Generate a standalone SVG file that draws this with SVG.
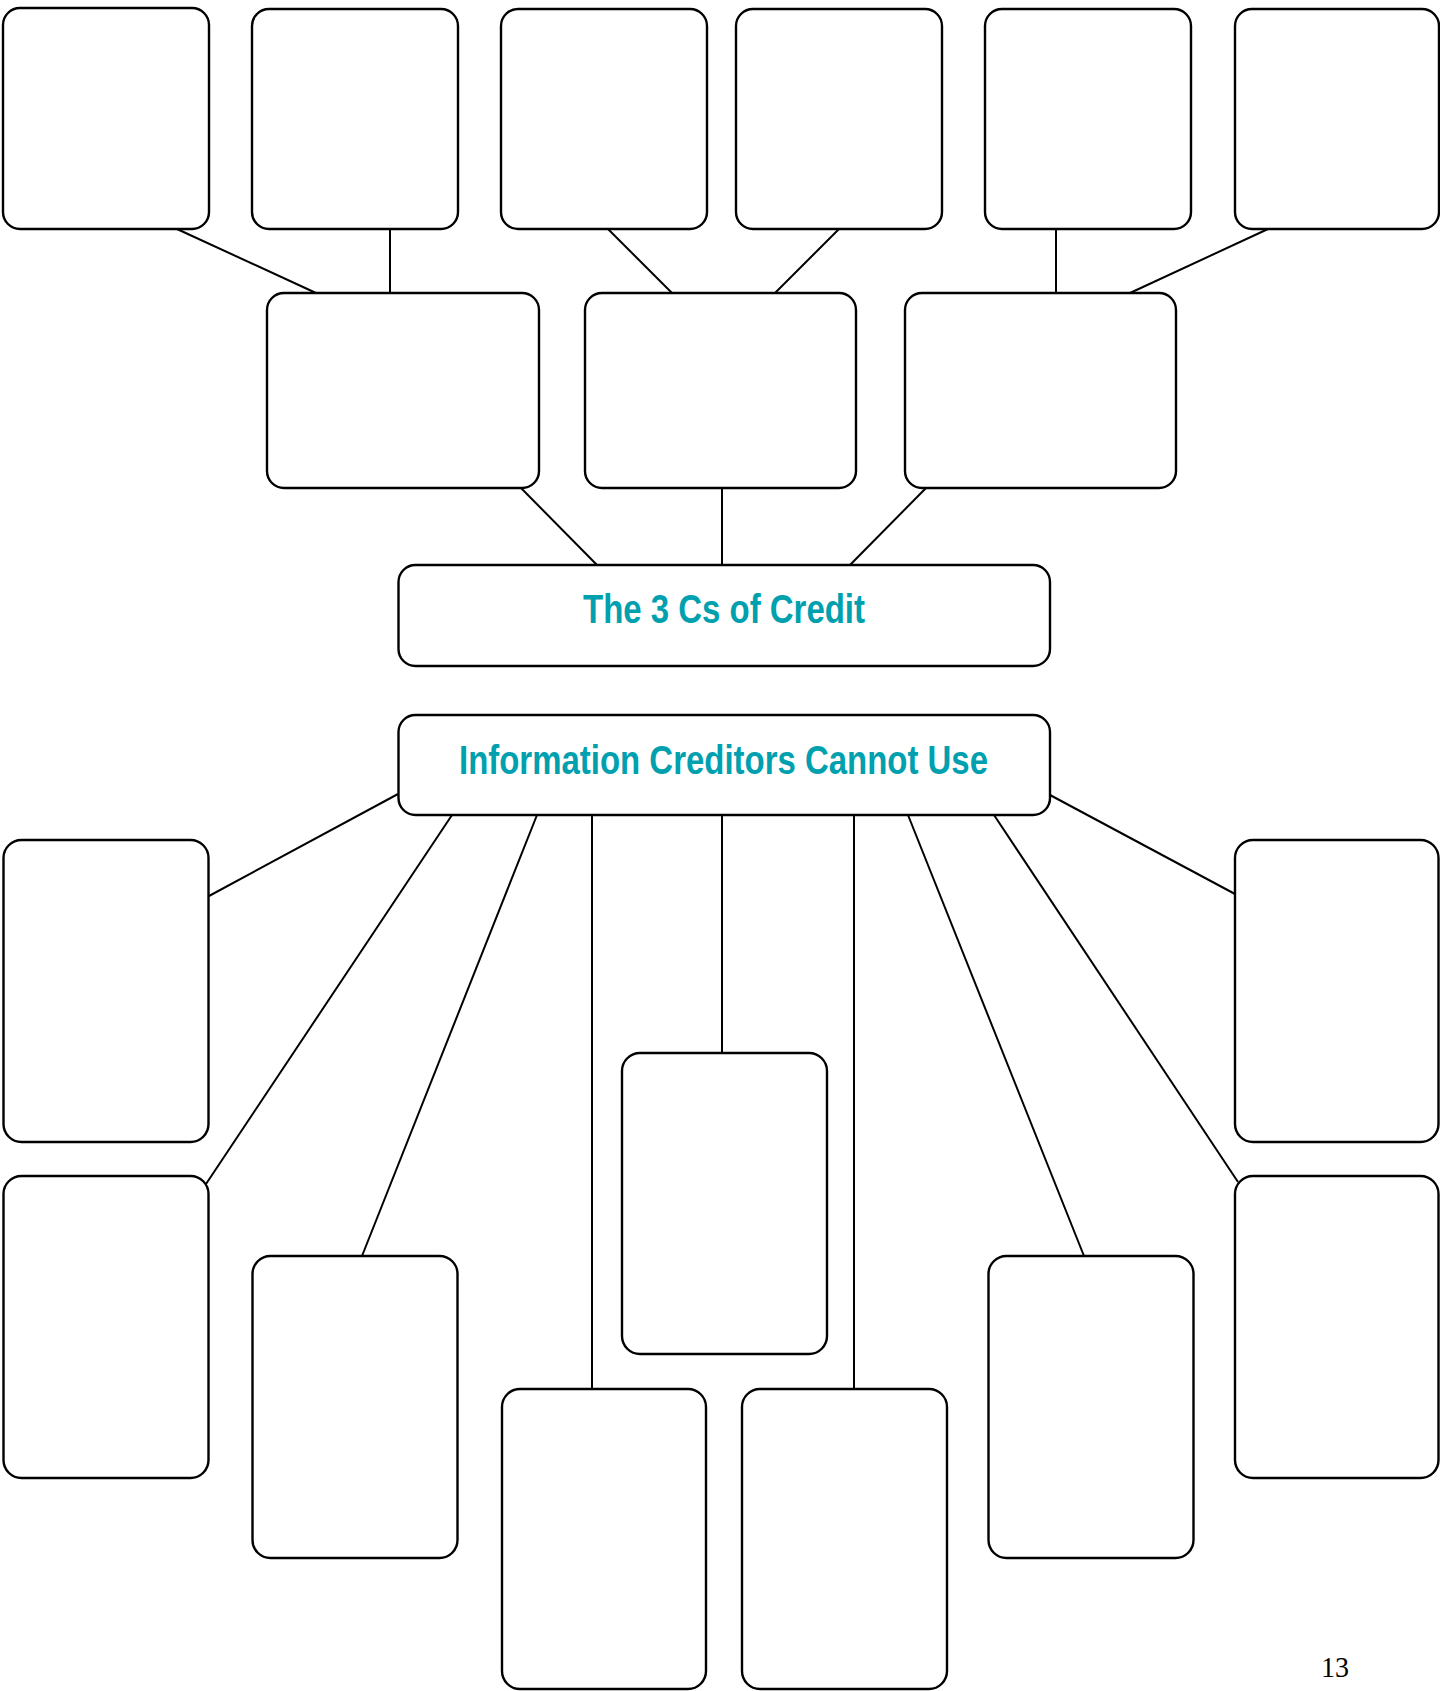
<svg xmlns="http://www.w3.org/2000/svg" width="1440" height="1691" viewBox="0 0 1440 1691">
<style>
.box{fill:#fff;stroke:#000;stroke-width:2.4}
.con{stroke:#000;stroke-width:2;fill:none}
.title{fill:#00A0AF;font-family:"Liberation Sans",Arial,sans-serif;font-weight:bold;font-size:40px;text-anchor:middle}
.pg{fill:#000;font-family:"Liberation Serif","Times New Roman",serif;font-size:30px;text-anchor:middle}
</style>
<rect width="1440" height="1691" fill="#fff"/>
<g id="connectors">
<line class="con" x1="177" y1="229" x2="316" y2="293"/>
<line class="con" x1="390" y1="229" x2="390" y2="293"/>
<line class="con" x1="608" y1="229" x2="672" y2="293"/>
<line class="con" x1="839" y1="229" x2="775" y2="293"/>
<line class="con" x1="1056" y1="229" x2="1056" y2="293"/>
<line class="con" x1="1268" y1="229" x2="1130" y2="293"/>
<line class="con" x1="521" y1="488" x2="597" y2="565"/>
<line class="con" x1="722" y1="488" x2="722" y2="565"/>
<line class="con" x1="926" y1="488" x2="850" y2="565"/>
<line class="con" x1="398" y1="794" x2="209" y2="896"/>
<line class="con" x1="452" y1="815" x2="206" y2="1184"/>
<line class="con" x1="537" y1="815" x2="362" y2="1256"/>
<line class="con" x1="592" y1="815" x2="592" y2="1389"/>
<line class="con" x1="722" y1="815" x2="722" y2="1053"/>
<line class="con" x1="854" y1="815" x2="854" y2="1389"/>
<line class="con" x1="908" y1="815" x2="1084" y2="1256"/>
<line class="con" x1="994" y1="815" x2="1238" y2="1182"/>
<line class="con" x1="1050" y1="795" x2="1235" y2="894"/>
</g>
<g id="top1"><rect class="box" x="3" y="8" width="206" height="221" rx="17"/></g>
<g id="top2"><rect class="box" x="252" y="9" width="206" height="220" rx="17"/></g>
<g id="top3"><rect class="box" x="501" y="9" width="206" height="220" rx="17"/></g>
<g id="top4"><rect class="box" x="736" y="9" width="206" height="220" rx="17"/></g>
<g id="top5"><rect class="box" x="985" y="9" width="206" height="220" rx="17"/></g>
<g id="top6"><rect class="box" x="1235" y="9" width="204" height="220" rx="17"/></g>
<g id="mid1"><rect class="box" x="267" y="293" width="272" height="195" rx="17"/></g>
<g id="mid2"><rect class="box" x="585" y="293" width="271" height="195" rx="17"/></g>
<g id="mid3"><rect class="box" x="905" y="293" width="271" height="195" rx="17"/></g>
<g id="credit3cs"><rect class="box" x="398.5" y="565" width="651.5" height="101" rx="17"/>
<text class="title" x="724" y="623" textLength="282" lengthAdjust="spacingAndGlyphs">The 3 Cs of Credit</text></g>
<g id="cannotuse"><rect class="box" x="398.5" y="715" width="651.5" height="100" rx="17"/>
<text class="title" x="723.5" y="774" textLength="529" lengthAdjust="spacingAndGlyphs">Information Creditors Cannot Use</text></g>
<g id="l1"><rect class="box" x="3.5" y="840" width="205" height="302" rx="18"/></g>
<g id="l2"><rect class="box" x="3.5" y="1176" width="205" height="302" rx="18"/></g>
<g id="l3"><rect class="box" x="252.5" y="1256" width="205" height="302" rx="18"/></g>
<g id="l4"><rect class="box" x="502" y="1389" width="204" height="300" rx="18"/></g>
<g id="center"><rect class="box" x="622" y="1053" width="205" height="301" rx="18"/></g>
<g id="r4"><rect class="box" x="742" y="1389" width="205" height="300" rx="18"/></g>
<g id="r3"><rect class="box" x="988.5" y="1256" width="205" height="302" rx="18"/></g>
<g id="r2"><rect class="box" x="1235" y="1176" width="203.5" height="302" rx="18"/></g>
<g id="r1"><rect class="box" x="1235" y="840" width="203.5" height="302" rx="18"/></g>
<text class="pg" x="1335" y="1677" textLength="28" lengthAdjust="spacingAndGlyphs">13</text>
</svg>
